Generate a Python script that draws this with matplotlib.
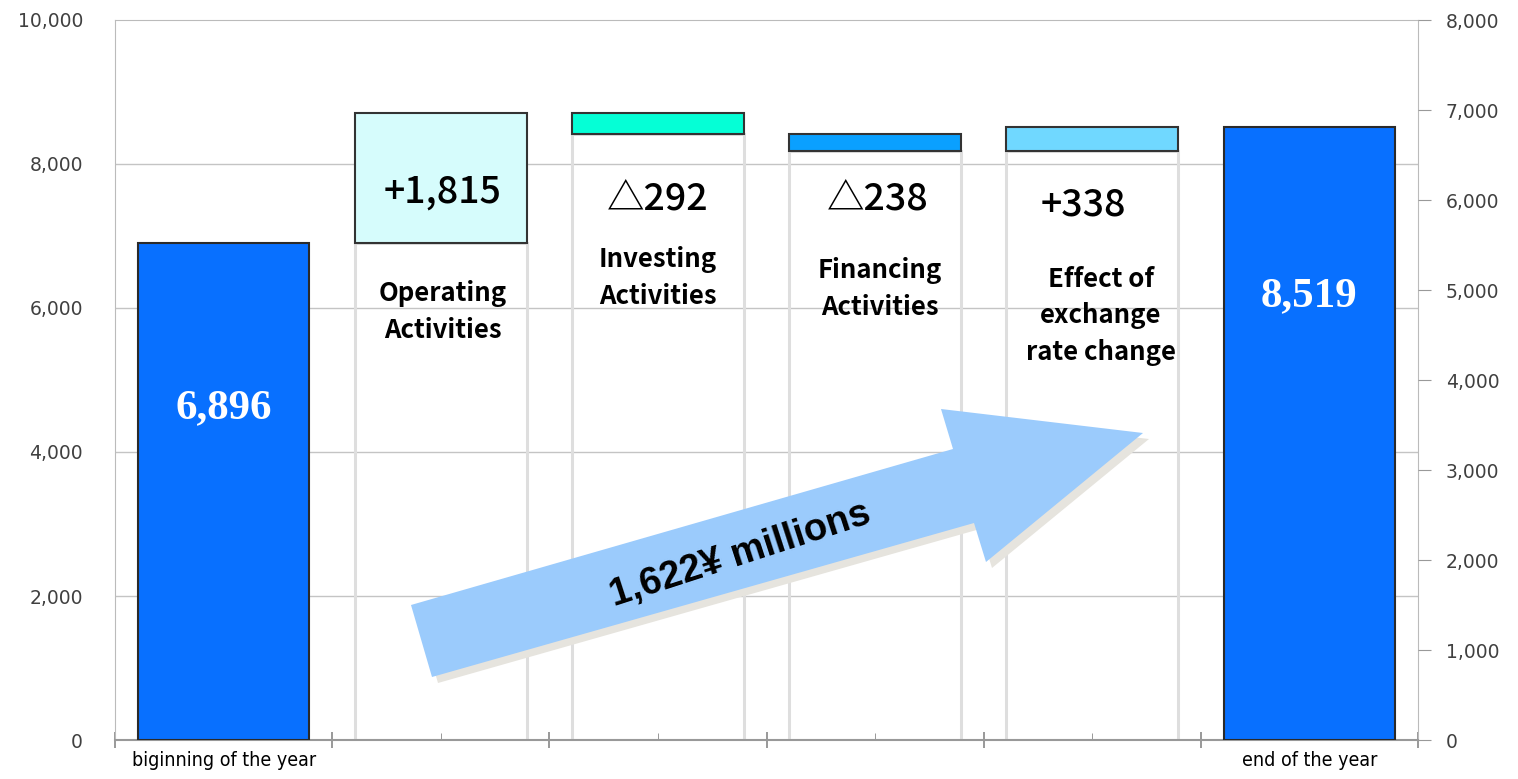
import matplotlib.pyplot as plt
from matplotlib.patches import Polygon
import numpy as np

# data (yen millions)
categories = ["biginning of the year", "Operating\nActivities", "Investing\nActivities",
              "Financing\nActivities", "Effect of\nexchange\nrate change", "end of the year"]
start_cash = 6896
changes = [1815, -292, -238, 338]
end_cash = 8519
change_labels = ["+1,815", "\u25b3292", "\u25b3238", "+338"]
total_change = "1,622\u00a5 millions"

left_ticks = np.arange(0, 10001, 2000)
right_ticks = np.arange(0, 8001, 1000)

# waterfall geometry from the data
running = start_cash + np.concatenate([[0], np.cumsum(changes)])
lows = np.minimum(running[:-1], running[1:])
highs = np.maximum(running[:-1], running[1:])

colors = ["#D6FCFC", "#05FFD6", "#0AA0FF", "#70D8FF"]
blue = "#0870FF"
W, H = 1518, 779

fig = plt.figure(figsize=(W / 100, H / 100), dpi=100)
ax = fig.add_axes([115 / W, 1 - 740 / H, (1418 - 115) / W, (740 - 20) / H])

x = np.arange(len(categories))
bw = 0.79

# grid
for v in left_ticks[1:-1]:
    ax.axhline(v, color="#c4c4c4", lw=1, zorder=0)

# invisible base bars with light grey sides
ax.bar(x[1:5], lows, width=bw, facecolor="none", edgecolor="#dedede", lw=2.2, zorder=1)

# start / end bars
ax.bar([x[0], x[5]], [start_cash, end_cash], width=bw, color=blue,
       edgecolor="#2a2a2a", lw=1.5, zorder=3)
# floating change bars
ax.bar(x[1:5], highs - lows, bottom=lows, width=bw, color=colors,
       edgecolor="#333333", lw=1.5, zorder=3)

ax.set_xlim(-0.5, 5.5)
ax.set_ylim(0, 10000)
ax.set_yticks(left_ticks)
ax.set_yticklabels([f"{v:,}" for v in left_ticks], fontsize=13.5, color="#404040")
ax.tick_params(axis="y", length=0, pad=23)

ax.set_xticks(np.arange(-0.5, 6, 1))
ax.set_xticklabels([])
ax.set_xticks(x, minor=True)
ax.set_xticklabels([categories[0], "", "", "", "", categories[5]], minor=True,
                   fontsize=14, family=["Liberation Sans Narrow", "DejaVu Sans"],
                   fontstretch="condensed", color="black")
ax.tick_params(axis="x", which="major", direction="inout", length=12, color="#888888", width=1.2)
ax.tick_params(axis="x", which="minor", direction="in", length=5, color="#888888", pad=8)

for s in ["left", "top", "bottom", "right"]:
    ax.spines[s].set_color("#bbbbbb")
ax.spines["bottom"].set_color("#999999")
ax.spines["bottom"].set_linewidth(1.5)

ax2 = ax.twinx()
ax2.set_ylim(0, 8000)
ax2.set_yticks(right_ticks)
ax2.set_yticklabels([f"{v:,}" for v in right_ticks], fontsize=13.5, color="#404040")
ax2.tick_params(axis="y", direction="out", length=9, color="#999999", pad=11)
for s in ["left", "top", "bottom", "right"]:
    ax2.spines[s].set_visible(False)

# labels
jp = ["Noto Sans CJK JP", "DejaVu Sans"]
num_pos = [(1.01, 7611), (2.0, 7514), (3.01, 7514), (3.96, 7431)]
cat_pos = [(1.01, 5944), (2.0, 6417), (3.02, 6264), (4.04, 5889)]
for i in range(4):
    ax.text(*num_pos[i], change_labels[i], ha="center", va="center", fontsize=27,
            family=jp, weight="medium", zorder=6)
    ax.text(*cat_pos[i], categories[i + 1], ha="center", va="center", fontsize=18.5,
            family=jp, weight="bold", linespacing=1.45, zorder=6)

ax.text(x[0], 4611, f"{start_cash:,}", ha="center", va="center", fontsize=31,
        family="Liberation Serif", weight="bold", color="white", zorder=6)
ax.text(x[5], 6167, f"{end_cash:,}", ha="center", va="center", fontsize=31,
        family="Liberation Serif", weight="bold", color="white", zorder=6)

# big arrow overlay in pixel space
ov = fig.add_axes([0, 0, 1, 1], zorder=5)
ov.set_xlim(0, W)
ov.set_ylim(H, 0)
ov.axis("off")
ov.patch.set_alpha(0)
arrow = np.array([(411, 605), (953, 449), (941, 409), (1143, 433),
                  (986, 562), (974, 523), (432, 677)])
ov.add_patch(Polygon(arrow + [6, 6], closed=True, facecolor="#e6e4de", edgecolor="none"))
ov.add_patch(Polygon(arrow, closed=True, facecolor="#9BCBFC", edgecolor="none"))
ov.text(740, 555, total_change, rotation=18, ha="center", va="center", fontsize=27.5,
        family="Liberation Sans", weight="bold", rotation_mode="anchor")

fig.savefig("out.png", dpi=100)
